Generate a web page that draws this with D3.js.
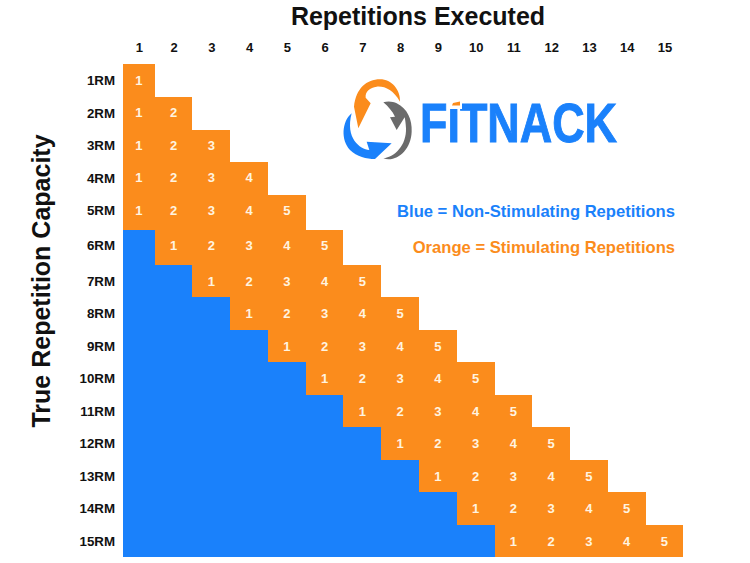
<!DOCTYPE html>
<html>
<head>
<meta charset="utf-8">
<script src="https://cdn.jsdelivr.net/npm/d3@7"></script>
<style>
  html, body { margin: 0; padding: 0; background: #fff; }
  svg { display: block; }
  text { font-family: "Liberation Sans", Arial, sans-serif; font-weight: bold; }
  .axis path, .axis line { display: none; }
  rect.cell { shape-rendering: crispEdges; }
</style>
</head>
<body>
<div id="vis"></div>
<script>
const FRAME_WIDTH = 750;
const FRAME_HEIGHT = 563;

const ORANGE = "#fb8c1c";
const BLUE = "#1a81fb";
const GRAY = "#6b6b6b";

// data
const repsExecuted = [1, 2, 3, 4, 5, 6, 7, 8, 9, 10, 11, 12, 13, 14, 15];
const capacities = ["1RM", "2RM", "3RM", "4RM", "5RM", "6RM", "7RM", "8RM",
  "9RM", "10RM", "11RM", "12RM", "13RM", "14RM", "15RM"];
const nonStimulating = [0, 0, 0, 0, 0, 1, 2, 3, 4, 5, 6, 7, 8, 9, 10];
const stimulating = [
  [1], [1, 2], [1, 2, 3], [1, 2, 3, 4], [1, 2, 3, 4, 5],
  [1, 2, 3, 4, 5], [1, 2, 3, 4, 5], [1, 2, 3, 4, 5], [1, 2, 3, 4, 5], [1, 2, 3, 4, 5],
  [1, 2, 3, 4, 5], [1, 2, 3, 4, 5], [1, 2, 3, 4, 5], [1, 2, 3, 4, 5], [1, 2, 3, 4, 5]
];

const svg = d3.select("#vis")
  .append("svg")
    .attr("width", FRAME_WIDTH)
    .attr("height", FRAME_HEIGHT);

svg.append("rect")
  .attr("width", FRAME_WIDTH)
  .attr("height", FRAME_HEIGHT)
  .attr("fill", "#fff");

// first column is narrower and the 5RM/6RM rows taller than the rest in the original
const X_SCALE = d3.scaleLinear()
  .domain([0, 1, 15])
  .range([123, 154.7, 683.3]);

const Y_SCALE = d3.scaleLinear()
  .domain([0, 4, 5, 6, 15])
  .range([64, 195, 230, 265, 557]);

// labels don't sit dead centre in those taller rows, so they get their own scale
const Y_LABEL = d3.scaleLinear()
  .domain([0.5, 4.5, 5.5, 6.5, 14.5])
  .range([80.3, 210.3, 245.6, 281, 541]);

// blue cells
capacities.forEach((cap, r) => {
  if (nonStimulating[r] > 0) {
    svg.append("rect")
      .attr("class", "cell")
      .attr("x", X_SCALE(0))
      .attr("y", Y_SCALE(r))
      .attr("width", X_SCALE(nonStimulating[r]) - X_SCALE(0))
      .attr("height", Y_SCALE(r + 1) - Y_SCALE(r))
      .attr("fill", BLUE);
  }
});

// orange cells and their numbers
capacities.forEach((cap, r) => {
  const row = svg.append("g");
  stimulating[r].forEach((v, i) => {
    const col = nonStimulating[r] + i;
    row.append("rect")
      .attr("class", "cell")
      .attr("x", X_SCALE(col))
      .attr("y", Y_SCALE(r))
      .attr("width", X_SCALE(col + 1) - X_SCALE(col))
      .attr("height", Y_SCALE(r + 1) - Y_SCALE(r))
      .attr("fill", ORANGE);
  });
  stimulating[r].forEach((v, i) => {
    const col = nonStimulating[r] + i;
    row.append("text")
      .attr("x", X_SCALE(col + 0.5))
      .attr("y", Y_LABEL(r + 0.5))
      .attr("dy", "0.35em")
      .attr("text-anchor", "middle")
      .attr("font-size", 13)
      .attr("fill", "#fff4e0")
      .text(v);
  });
});

// axes
svg.append("g")
  .attr("class", "axis")
  .attr("transform", "translate(0,55)")
  .call(d3.axisTop(X_SCALE)
    .tickValues(repsExecuted.map(d => d - 0.5))
    .tickFormat(d => d + 0.5)
    .tickSize(0))
  .selectAll("text")
    .attr("font-size", 13)
    .attr("fill", "#111");

svg.append("g")
  .attr("class", "axis")
  .attr("transform", "translate(118,0)")
  .call(d3.axisLeft(Y_LABEL)
    .tickValues(capacities.map((d, i) => i + 0.5))
    .tickFormat((d, i) => capacities[i])
    .tickSize(0))
  .selectAll("text")
    .attr("font-size", 13.3)
    .attr("fill", "#111");

// titles
svg.append("text")
  .attr("x", 418)
  .attr("y", 25)
  .attr("text-anchor", "middle")
  .attr("font-size", 25)
  .attr("fill", "#111")
  .text("Repetitions Executed");

svg.append("text")
  .attr("transform", "translate(50,281) rotate(-90)")
  .attr("text-anchor", "middle")
  .attr("font-size", 25)
  .attr("fill", "#111")
  .text("True Repetition Capacity");

// legend notes
svg.append("text")
  .attr("x", 675)
  .attr("y", 217)
  .attr("text-anchor", "end")
  .attr("font-size", 16.6)
  .attr("fill", BLUE)
  .text("Blue = Non-Stimulating Repetitions");

svg.append("text")
  .attr("x", 675)
  .attr("y", 252.5)
  .attr("text-anchor", "end")
  .attr("font-size", 16.6)
  .attr("fill", ORANGE)
  .text("Orange = Stimulating Repetitions");

const logo = svg.append("g")
  .attr("transform", "translate(330,60) scale(0.3333)");

logo.append("path")
  .attr("fill", GRAY)
  .attr("d", "M160,127 C175,122 190,125 200,130 C232,145 247,180 245,215 C243,270 200,308 160,295 C195,292 230,255 228,205 C227,190 226,180 224,172 L200,210 L180,172 L195,170 C188,155 175,140 160,127 Z");

logo.append("path")
  .attr("fill", BLUE)
  .attr("d", "M65,160 C35,185 32,240 60,270 C80,290 110,297 135,297 L185,250 L110,245 L118,270 C90,268 45,235 65,160 Z");

logo.append("path")
  .attr("fill", ORANGE)
  .attr("d", "M85,205 L72,140 C78,85 110,58 150,58 C185,58 212,90 210,125 C190,90 165,78 140,80 C120,82 105,95 107,113 L122,130 Z");

svg.append("text")
  .attr("x", 420)
  .attr("y", 141.5)
  .attr("font-size", 56)
  .attr("fill", BLUE)
  .attr("stroke", BLUE)
  .attr("stroke-width", 1)
  .attr("textLength", 197)
  .attr("lengthAdjust", "spacingAndGlyphs")
  .text("FITNACK");

// the I carries an orange dot
svg.append("rect")
  .attr("x", 450).attr("y", 99).attr("width", 12).attr("height", 10)
  .attr("fill", "#fff");
svg.append("path")
  .attr("fill", ORANGE)
  .attr("d", "M452,105.5 L453,103 L460,101.5 L460,105.5 Z");
</script>
</body>
</html>
